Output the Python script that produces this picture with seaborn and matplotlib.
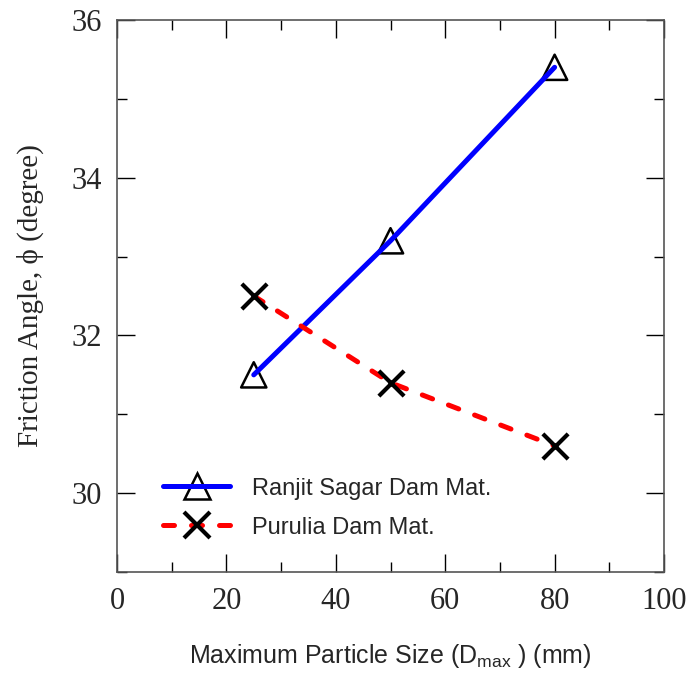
import matplotlib
matplotlib.use("Agg")
import matplotlib.pyplot as plt
from matplotlib.lines import Line2D
from matplotlib.legend_handler import HandlerTuple
from matplotlib.ticker import MultipleLocator
import seaborn as sns
import pandas as pd

# Friction angle versus maximum particle size for two dam materials
dmax_mm = [25, 50, 80]
ranjit_phi = [31.5, 33.2, 35.4]
purulia_phi = [32.5, 31.4, 30.6]
series_names = ["Ranjit Sagar Dam Mat.", "Purulia Dam Mat."]
x_ticks = [0, 20, 40, 60, 80, 100]
y_ticks = [30, 32, 34, 36]

sns.set_style("ticks")
plt.rcParams["font.family"] = ["Liberation Serif", "DejaVu Serif"]
plt.rcParams["mathtext.fontset"] = "custom"
plt.rcParams["mathtext.rm"] = "Liberation Sans"
plt.rcParams["mathtext.it"] = "Liberation Sans:italic"

ranjit = pd.DataFrame({"dmax": dmax_mm, "phi": ranjit_phi})
purulia = pd.DataFrame({"dmax": dmax_mm, "phi": purulia_phi})

LW = 3.6
DASH = (2.2, 3.4)

fig = plt.figure(figsize=(6.94, 6.75), dpi=100)
ax = fig.add_axes([0.1686, 0.1526, 0.7882, 0.8178])

# Ranjit Sagar: open triangles underneath a solid blue line
sns.scatterplot(data=ranjit, x="dmax", y="phi", marker="^", s=330,
                facecolor="none", edgecolor="black", linewidth=1.8,
                ax=ax, zorder=2)
sns.lineplot(data=ranjit, x="dmax", y="phi", color="#0000ff", lw=LW,
             solid_capstyle="round", ax=ax, zorder=3)

# Purulia: dashed red line with crosses on top
sns.lineplot(data=purulia, x="dmax", y="phi", color="#ff0000", lw=LW,
             dashes=DASH, dash_capstyle="round", ax=ax, zorder=3)
sns.scatterplot(data=purulia, x="dmax", y="phi", marker="x", s=330,
                color="black", linewidth=3, ax=ax, zorder=4)

ax.set_xlim(0, 100)
ax.set_ylim(29, 36)
ax.set_xticks(x_ticks)
ax.set_yticks(y_ticks)
ax.xaxis.set_minor_locator(MultipleLocator(10))
ax.yaxis.set_minor_locator(MultipleLocator(1))
ax.tick_params(which="both", direction="in", top=True, right=True,
               color="black", width=1.0)
ax.tick_params(which="major", length=13, labelsize=22, pad=11)
ax.tick_params(which="minor", length=7)
for sp in ax.spines.values():
    sp.set_color("#555555")
    sp.set_linewidth(1.2)

ax.set_xlabel(r"Maximum Particle Size (D$_{\mathrm{max}}$ ) (mm)",
              family=["Liberation Sans", "DejaVu Sans"], fontsize=18)
ax.xaxis.set_label_coords(0.5, -0.127)
ax.set_ylabel("Friction Angle, \u03d5 (degree)",
              family=["Liberation Serif", "DejaVu Serif"], fontsize=21)
ax.yaxis.set_label_coords(-0.133, 0.5)

# Legend handles: line over triangle, cross over dashes
tri = Line2D([], [], ls="none", marker="^", ms=19, mfc="none",
             mec="black", mew=1.8)
blue = Line2D([], [], color="#0000ff", lw=LW, solid_capstyle="round")
red = Line2D([], [], color="#ff0000", lw=LW, dashes=DASH,
             dash_capstyle="round")
cross = Line2D([], [], ls="none", marker="x", ms=19, mec="black", mew=3)
ax.legend([(tri, blue), (red, cross)], series_names,
          handler_map={tuple: HandlerTuple(ndivide=1, pad=0)},
          loc="upper left", bbox_to_anchor=(0.084, 0.171), frameon=False,
          borderpad=0, borderaxespad=0,
          handlelength=2.85, handletextpad=0.93, labelspacing=0.72,
          prop={"family": ["Liberation Sans", "DejaVu Sans"], "size": 17})

fig.savefig("out.png", dpi=100, facecolor="white")
